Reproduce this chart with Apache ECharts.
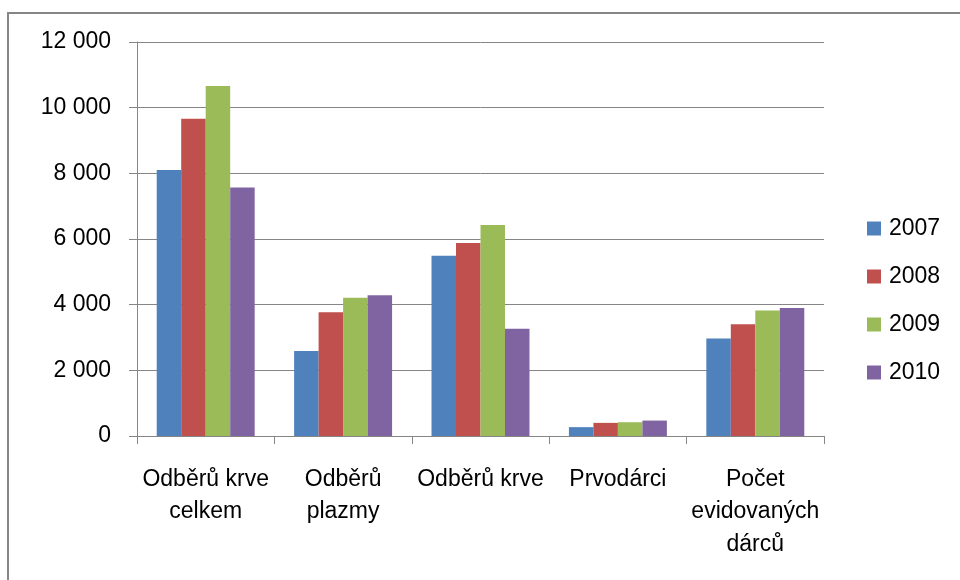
<!DOCTYPE html>
<html>
<head>
<meta charset="utf-8">
<script src="https://cdn.jsdelivr.net/npm/echarts@6/dist/echarts.min.js"></script>
<style>
  html, body { margin: 0; padding: 0; background: #fff; }
  #chart { width: 960px; height: 580px; }
</style>
</head>
<body>
<div id="chart"></div>
<script>
// darci krve 2007-2010
var categories = ['Odběrů krve\ncelkem', 'Odběrů\nplazmy', 'Odběrů krve', 'Prvodárci', 'Počet\nevidovaných\ndárců'];
var years = ['2007', '2008', '2009', '2010'];
var v2007 = [8100, 2590, 5490, 270, 2970];
var v2008 = [9660, 3770, 5880, 400, 3400];
var v2009 = [10660, 4210, 6430, 420, 3820];
var v2010 = [7570, 4290, 3270, 470, 3900];
var yTicks = [0, 2000, 4000, 6000, 8000, 10000, 12000];

(function () {
  var font = 'Liberation Sans, Arial, sans-serif';
  var gray = '#868686';
  var colors = ['#4F81BD', '#C0504D', '#9BBB59', '#8064A2'];
  var values = [v2007, v2008, v2009, v2010];

  var chart = echarts.init(document.getElementById('chart'), null, { renderer: 'canvas' });

  var series = years.map(function (y, i) {
    return {
      name: y,
      type: 'bar',
      barGap: '0%',
      barCategoryGap: '28.7%',
      data: values[i],
      itemStyle: { color: colors[i] }
    };
  });

  chart.setOption({
    animation: false,
    color: colors,
    textStyle: { fontFamily: font },
    graphic: [{
      type: 'rect',
      shape: { x: 8, y: 13, width: 1000, height: 600 },
      style: { fill: null, stroke: gray, lineWidth: 2 },
      silent: true
    }],
    grid: { left: 137, right: 136, top: 42, bottom: 144 },
    legend: {
      orient: 'vertical',
      left: 867,
      top: 217,
      padding: 0,
      itemWidth: 14,
      itemHeight: 14,
      itemGap: 25,
      icon: 'rect',
      data: years,
      textStyle: { fontFamily: font, fontSize: 23, color: '#000', lineHeight: 23, padding: [0, 0, 0, 3] }
    },
    xAxis: {
      type: 'category',
      data: categories,
      axisLine: { lineStyle: { color: gray, width: 1 } },
      axisTick: { show: true, length: 8, lineStyle: { color: gray } },
      axisLabel: {
        interval: 0,
        margin: 27,
        color: '#000',
        fontFamily: font,
        fontSize: 23,
        lineHeight: 32.5
      }
    },
    yAxis: {
      type: 'value',
      min: yTicks[0],
      max: yTicks[yTicks.length - 1],
      interval: 2000,
      axisLine: { show: true, lineStyle: { color: gray, width: 1 } },
      axisTick: { show: true, length: 8, lineStyle: { color: gray } },
      splitLine: { lineStyle: { color: gray, width: 1 } },
      axisLabel: {
        margin: 26,
        color: '#000',
        fontFamily: font,
        fontSize: 23,
        formatter: function (v) {
          return String(v).replace(/\B(?=(\d{3})+(?!\d))/g, ' ');
        }
      }
    },
    series: series
  });
})();
</script>
</body>
</html>
